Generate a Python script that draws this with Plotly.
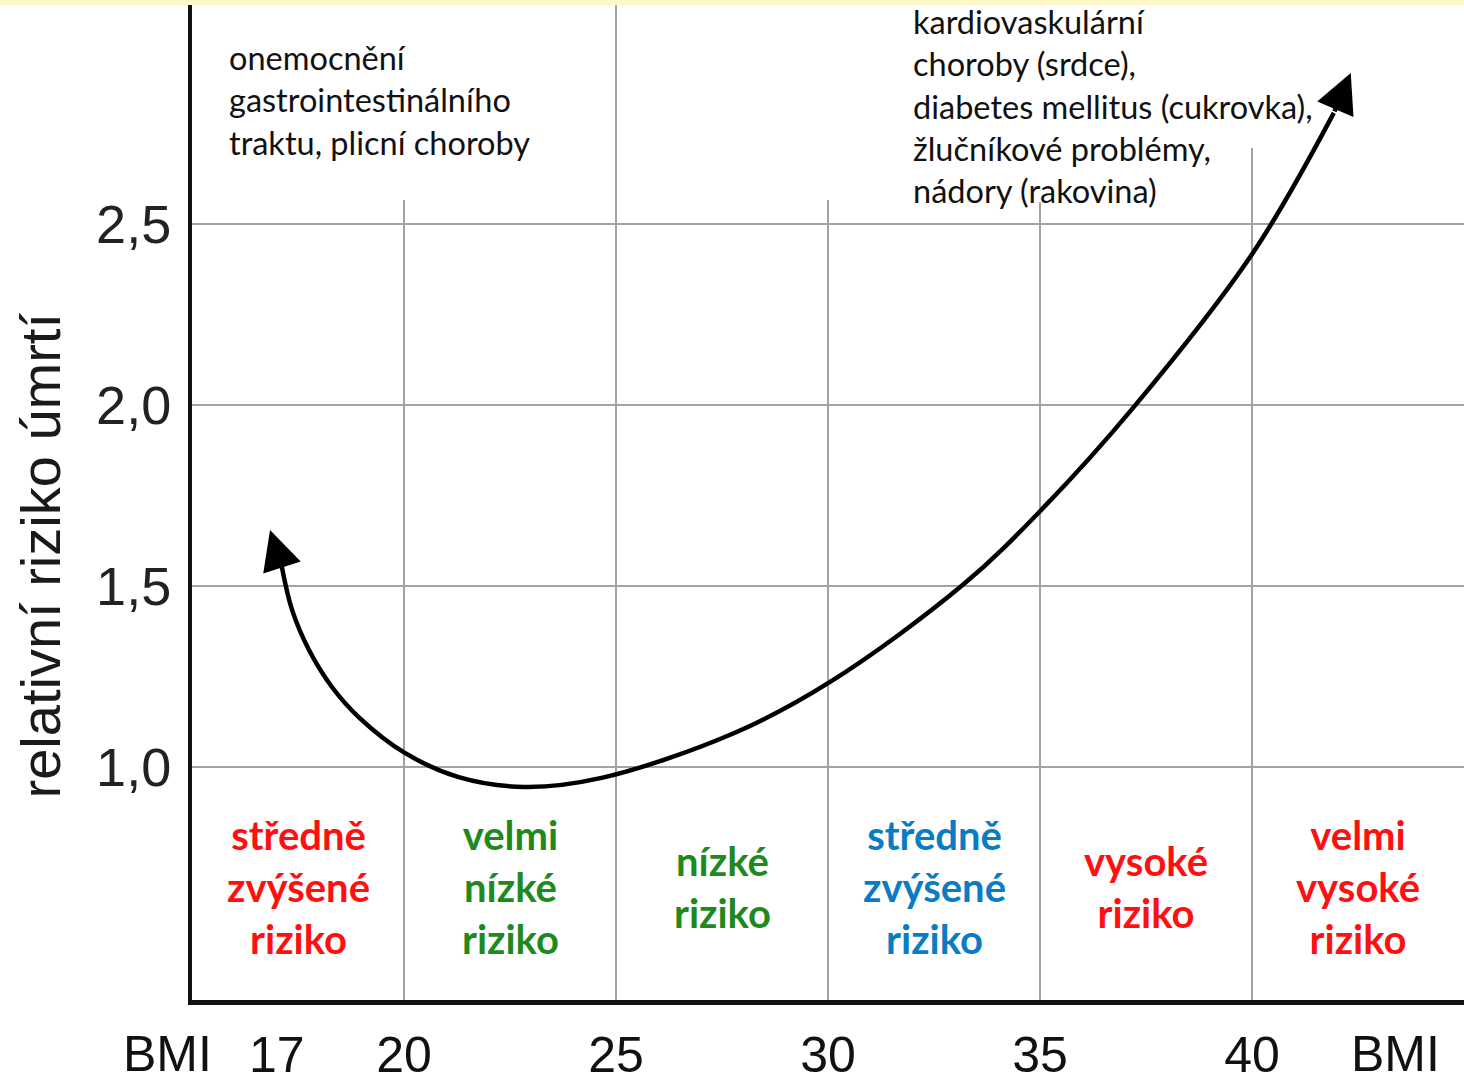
import plotly.graph_objects as go

# ---- data ----
bmi = [16.84, 17.12, 17.36, 17.76, 18.30, 18.93, 20.02, 21.29, 22.84, 24.66,
       27.79, 30.05, 33.21, 35.07, 37.21, 40.02, 41.93, 42.33]
risk = [1.655, 1.552, 1.434, 1.323, 1.221, 1.138, 1.039, 0.972, 0.945, 0.970,
        1.094, 1.235, 1.506, 1.715, 1.994, 2.420, 2.807, 2.917]

x_tick_vals = [17, 20, 25, 30, 35, 40]
x_tick_text = ["17", "20", "25", "30", "35", "40"]
bmi_label_pos = [14.42, 43.39]
y_tick_vals = [1.0, 1.5, 2.0, 2.5]
grid_x = [20, 25, 30, 35, 40]
grid_top = [2.566, 3.105, 2.566, 2.56, 2.71]

zone_center = [17.5, 22.5, 27.5, 32.5, 37.5, 42.5]
zone_text = ["středně<br>zvýšené<br>riziko", "velmi<br>nízké<br>riziko", "nízké<br>riziko",
             "středně<br>zvýšené<br>riziko", "vysoké<br>riziko", "velmi<br>vysoké<br>riziko"]
zone_color = ["#ff1010", "#1e8a1e", "#1e8a1e", "#0a7cc4", "#ff1010", "#ff1010"]
zone_level = 0.669

note_left = "onemocnění<br>gastrointestinálního<br>traktu, plicní choroby"
note_right = ("kardiovaskulární<br>choroby (srdce),<br>diabetes mellitus (cukrovka),<br>"
              "žlučníkové problémy,<br>nádory (rakovina)")

X_RANGE = [15, 45]
Y_RANGE = [0.3564, 3.105]


def to_paper_x(v):
    return (v - X_RANGE[0]) / (X_RANGE[1] - X_RANGE[0])


fig = go.Figure()
# curve body (the two end points are reached by the arrow annotations)
fig.add_trace(go.Scatter(x=bmi[1:-1], y=risk[1:-1], mode="lines",
                         line=dict(color="black", width=4.5, shape="spline", smoothing=1.0),
                         hoverinfo="skip", showlegend=False))

# arrowheads at both ends of the curve
for tip, prev in ((0, 1), (len(bmi) - 1, len(bmi) - 2)):
    fig.add_annotation(x=bmi[tip], y=risk[tip], ax=bmi[prev], ay=risk[prev],
                       xref="x", yref="y", axref="x", ayref="y", text="",
                       showarrow=True, arrowhead=2, arrowsize=1.75, arrowwidth=4.5,
                       arrowcolor="black", standoff=0)

# vertical grid lines
for gx, gt in zip(grid_x, grid_top):
    fig.add_shape(type="line", x0=gx, x1=gx, y0=Y_RANGE[0], y1=gt, xref="x", yref="y",
                  line=dict(color="#a3a3a3", width=2), layer="below")

# yellow strip at top
fig.add_shape(type="rect", xref="paper", yref="paper", x0=-0.2, x1=1.0, y0=1.0, y1=1.01,
              fillcolor="#fff8c8", line=dict(width=0), layer="above")

for cx, txt, col in zip(zone_center, zone_text, zone_color):
    fig.add_annotation(x=cx, y=zone_level, xref="x", yref="y", text="<b>" + txt + "</b>",
                       showarrow=False, align="center", xanchor="center", yanchor="middle",
                       font=dict(family="Lato, Open Sans, sans-serif", size=40, color=col))

fig.add_annotation(x=15.82, y=2.843, xref="x", yref="y", text=note_left, showarrow=False,
                   align="left", xanchor="left", yanchor="middle",
                   font=dict(family="Lato, Open Sans, sans-serif", size=32.5, color="#111"))
fig.add_annotation(x=31.96, y=2.827, xref="x", yref="y", text=note_right, showarrow=False,
                   align="left", xanchor="left", yanchor="middle",
                   font=dict(family="Lato, Open Sans, sans-serif", size=32.5, color="#111"))

for bx in bmi_label_pos:
    fig.add_annotation(x=to_paper_x(bx), y=-0.0545, xref="paper", yref="paper", text="BMI",
                       showarrow=False, xanchor="center", yanchor="middle",
                       font=dict(family="Liberation Sans, Arial, sans-serif", size=50, color="#111"))

fig.add_annotation(x=-0.1193, y=0.447, xref="paper", yref="paper", text="relativní riziko úmrtí",
                   textangle=-90, showarrow=False, xanchor="center", yanchor="middle",
                   font=dict(family="Liberation Sans, Arial, sans-serif", size=56, color="#1a1a1a"))

fig.update_layout(
    template="none",
    width=1464, height=1086,
    margin=dict(l=192, r=0, t=5, b=86, pad=0),
    paper_bgcolor="white", plot_bgcolor="white",
    separators=", ",
    showlegend=False,
    xaxis=dict(range=X_RANGE, showgrid=False, zeroline=False, showline=True,
               linecolor="#111", linewidth=5, ticks="", tickvals=x_tick_vals,
               ticktext=x_tick_text, ticklabelstandoff=7, automargin=False,
               tickfont=dict(family="Liberation Sans, Arial, sans-serif", size=50, color="#111")),
    yaxis=dict(range=Y_RANGE, showgrid=True, gridcolor="#a3a3a3", gridwidth=2,
               zeroline=False, showline=True, linecolor="#111", linewidth=4, ticks="",
               tickvals=y_tick_vals, tickformat=".1f", ticklabelstandoff=6, automargin=False,
               tickfont=dict(family="Liberation Sans, Arial, sans-serif", size=54, color="#222")),
)

fig.write_html("out.html", config={"displayModeBar": False},
               post_script="document.body.style.margin='0px';")
